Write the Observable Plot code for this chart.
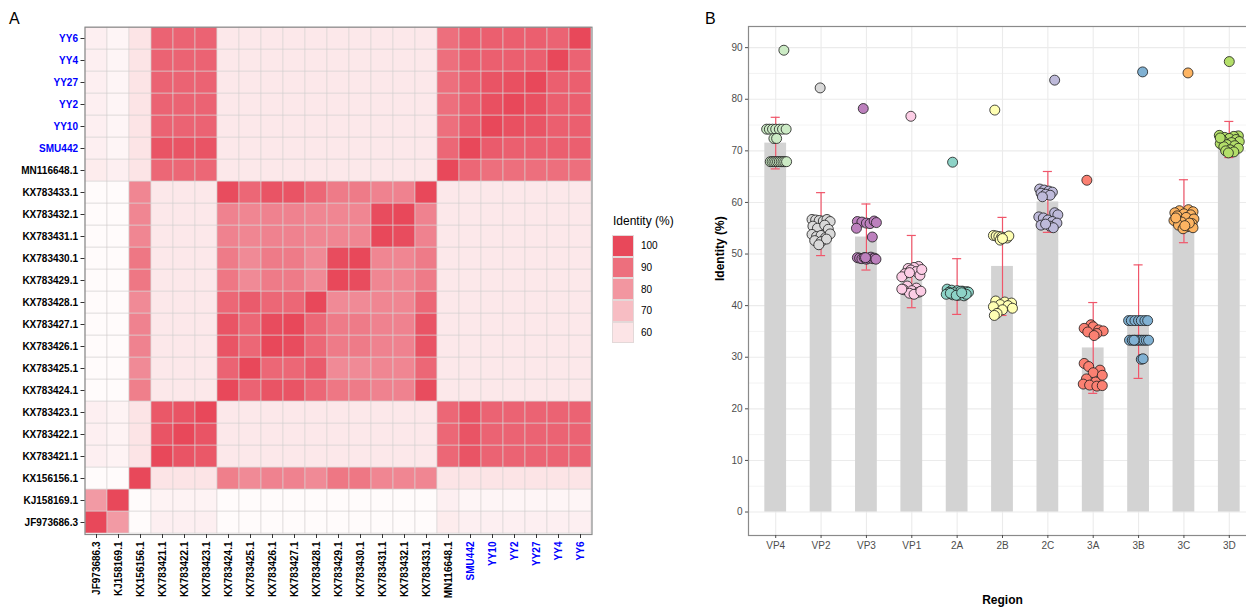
<!DOCTYPE html>
<html>
<head>
<meta charset="utf-8">
<script src="https://cdn.jsdelivr.net/npm/d3@7"></script>
<script src="https://cdn.jsdelivr.net/npm/@observablehq/plot@0.6"></script>
<style>
  html, body { margin: 0; padding: 0; background: #fff; }
  body { width: 1246px; height: 611px; overflow: hidden; position: relative; font-family: "Liberation Sans", Arial, Helvetica, sans-serif; }
  .panel { position: absolute; top: 0; }
  .panel svg { max-width: none !important; }
  .tag { position: absolute; font-size: 16px; color: #000; line-height: 1; }
  #legend { position: absolute; left: 612px; top: 214px; font-size: 12px; color: #000; }
  #legend .title { font-size: 12px; margin-bottom: 7px; margin-left: 1px; }
  #legend .row { display: flex; align-items: center; height: 21.7px; }
  #legend .key { width: 22px; height: 21.7px; box-sizing: border-box; border: 0.5px solid #e3d8d8; }
  #legend .lab { font-size: 10px; margin-left: 7px; }
</style>
</head>
<body>
<div class="tag" style="left:9px; top:11px;">A</div>
<div class="tag" style="left:705px; top:11px;">B</div>
<div id="panelA" class="panel" style="left:0px; width:600px;"></div>
<div id="legend"></div>
<div id="panelB" class="panel" style="left:700px; width:556px;"></div>
<script>
// ---------------- Panel A data ----------------
const sequences = ["JF973686.3","KJ158169.1","KX156156.1","KX783421.1","KX783422.1","KX783423.1",
  "KX783424.1","KX783425.1","KX783426.1","KX783427.1","KX783428.1","KX783429.1","KX783430.1",
  "KX783431.1","KX783432.1","KX783433.1","MN116648.1","SMU442","YY10","YY2","YY27","YY4","YY6"];
const newStrains = ["SMU442","YY10","YY2","YY27","YY4","YY6"];
// identity (%) matrix, rows and columns in the order of `sequences`
const identityMatrix = [
  [100,79,54,57,57,57,54,54,54,54,54,54,54,54,54,54,58,57,57,57,57,57,57],
  [79,100,54,56,56,56,54,54,54,54,54,54,54,54,54,54,57,55.5,55.5,55.5,55.5,55.5,55.5],
  [54,54,100,60,60,60,86,83,85,85,83,88,88,84,84,84,60,60,60,60,60,60,60],
  [57,56,60,100,97,96,59,59,59,59,59,59,59,59,59,59,92,97,93,93,93,93,93],
  [57,56,60,97,100,97,59,59,59,59,59,59,59,59,59,59,92,97,93,93,93,93,93],
  [57,56,60,96,97,100,59,59,59,59,59,59,59,59,59,59,92,97,93,93,93,93,93],
  [54,54,86,59,59,59,100,93,97,97,92,88,87,85,85,99,59,59,59,59,59,59,59],
  [54,54,83,59,59,59,93,100,92,92,95,83,83,84,84,92,59,59,59,59,59,59,59],
  [54,54,85,59,59,59,97,92,100,99,92,87,87,85,85,97,59,59,59,59,59,59,59],
  [54,54,85,59,59,59,97,92,99,100,92,87,87,85,85,97,59,59,59,59,59,59,59],
  [54,54,83,59,59,59,92,95,92,92,100,83,83,84,84,92,59,59,59,59,59,59,59],
  [54,54,88,59,59,59,88,83,87,87,83,100,99,84,84,87,59,59,59,59,59,59,59],
  [54,54,88,59,59,59,87,83,87,87,83,99,100,84,84,87,59,59,59,59,59,59,59],
  [54,54,84,59,59,59,85,84,85,85,84,84,84,100,99,85,59,59,59,59,59,59,59],
  [54,54,84,59,59,59,85,84,85,85,84,84,84,99,100,85,59,59,59,59,59,59,59],
  [54,54,84,59,59,59,99,92,97,97,92,87,87,85,85,100,59,59,59,59,59,59,59],
  [58,57,60,92,92,92,59,59,59,59,59,59,59,59,59,59,100,92,90,90,90,90,90],
  [57,55.5,60,97,97,97,59,59,59,59,59,59,59,59,59,59,92,100,95,94,94,94,94],
  [57,55.5,60,93,93,93,59,59,59,59,59,59,59,59,59,59,90,95,100,98,97,94,94],
  [57,55.5,60,93,93,93,59,59,59,59,59,59,59,59,59,59,90,94,98,100,98,94,94],
  [57,55.5,60,93,93,93,59,59,59,59,59,59,59,59,59,59,90,94,97,98,100,94,94],
  [57,55.5,60,93,93,93,59,59,59,59,59,59,59,59,59,59,90,94,94,94,94,100,93],
  [57,55.5,60,93,93,93,59,59,59,59,59,59,59,59,59,59,90,94,94,94,94,93,100]
];
const legendValues = [100, 90, 80, 70, 60];
const colorDomain = [53, 100];
const colorRange = ["#ffffff", "#E8485A"];

// ---------------- Panel B data ----------------
const regions = ["VP4","VP2","VP3","VP1","2A","2B","2C","3A","3B","3C","3D"];
const regionColors = ["#CCEBC5","#D9D9D9","#BC80BD","#FCCDE5","#8DD3C7","#FFFFB3","#BEBADA","#FB8072","#80B1D3","#FDB462","#B3DE69"];
const regionMean = [71.5, 55.8, 53.3, 46.6, 43.7, 47.6, 60.1, 31.8, 36.9, 58.3, 72.2];
const regionSD   = [5.0, 6.1, 6.4, 7.0, 5.4, 9.5, 5.9, 8.8, 11.0, 6.1, 3.5];
const yTicks = [0,10,20,30,40,50,60,70,80,90];
const yMinorTicks = [5,15,25,35,45,55,65,75,85];

const vp4Identity = [89.5, 74.2,74.2,74.2,74.2,74.2,74.2,74.2, 72.4,72.4, 67.9,67.9,67.9,67.9,67.9,67.9,67.9,67.9,67.9,67.9];
const vp4Jitter   = [0.18, -0.2,-0.14,-0.07,0.0,0.08,0.15,0.23, -0.04,0.02, -0.12,-0.08,-0.04,0.0,0.04,0.08,0.12,0.16,0.2,0.24];
const vp2Identity = [82.2, 56.7,56.6,56.5,56.4,56.7,56.3, 55.4,55.0,55.6,54.8, 53.8,53.4,53.6,53.2,53.9, 52.6,52.4,52.9, 51.8];
const vp2Jitter   = [-0.02, -0.2,-0.12,-0.04,0.05,0.13,0.2, -0.18,-0.08,0.08,0.16, -0.2,-0.1,0.0,0.1,0.2, -0.14,0.0,0.12, -0.05];
const vp3Identity = [78.2, 56.3,56.2,56.0,55.9,56.4,56.1, 55.0, 53.3, 49.3,49.2,49.1,49.3,49.0,49.2,49.4,49.1,49.2,49.0,49.3];
const vp3Jitter   = [-0.07, -0.2,-0.1,0.0,0.08,0.17,0.22, -0.22, 0.13, -0.2,-0.15,-0.1,-0.05,0.0,0.05,0.1,0.14,0.18,0.21,-0.02];
const vp1Identity = [76.7, 47.6,47.4,47.2,46.9,46.6,46.2,45.9,45.6,47.0,46.4, 43.8,43.4,43.1,42.9,42.6,42.4,42.2,43.2,42.8];
const vp1Jitter   = [-0.02, 0.15,0.05,-0.08,-0.02,0.1,-0.15,0.18,-0.22,0.22,-0.05, -0.1,0.1,-0.18,0.0,0.15,-0.05,0.05,-0.22,0.2];
const r2aIdentity = [67.8, 43.2,43.0,42.9,42.8,42.7,42.6,42.5,42.4,42.3,42.2,42.1,42.0,41.9,42.6,42.4,42.8,42.2,42.0,42.5];
const r2aJitter   = [-0.1, -0.22,-0.12,0.0,0.12,0.22,-0.18,-0.06,0.06,0.18,-0.24,-0.1,0.03,0.15,0.25,-0.15,0.08,0.2,-0.02,0.1];
const r2bIdentity = [77.9, 53.6,53.5,53.4,53.3,53.2,53.1,52.7,53.5,53.0, 40.9,40.7,40.5,40.2,40.0,39.8,39.5,39.2,38.5,38.1];
const r2bJitter   = [-0.17, -0.2,-0.14,-0.08,-0.02,0.04,0.1,-0.05,0.14,0.0, -0.15,0.05,0.2,-0.05,0.12,-0.2,0.22,0.0,-0.12,-0.18];
const r2cIdentity = [83.7, 62.6,62.4,62.2,62.0,61.8,61.6,61.4,61.1, 58.0,57.6,57.2,57.0,56.6,56.3,56.0,55.6,55.4,55.1,55.8];
const r2cJitter   = [0.15, -0.18,-0.08,0.02,0.1,-0.15,-0.05,0.05,-0.12, 0.15,0.22,-0.2,-0.1,0.0,0.1,0.2,-0.15,0.05,0.12,-0.05];
const r3aIdentity = [64.3, 36.3,35.9,35.6,35.3,35.1,34.9,34.6,34.2, 28.8,28.2,27.5,27.0,26.5,25.8,25.2,24.8,24.6,24.4,24.5];
const r3aJitter   = [-0.14, -0.05,0.0,-0.2,0.12,0.22,-0.12,0.08,0.02, -0.2,-0.1,0.15,0.0,0.2,-0.15,0.05,-0.22,-0.08,0.08,0.2];
const r3bIdentity = [85.3, 37.1,37.1,37.1,37.1,37.1,37.1,37.1, 33.3,33.3,33.3,33.3,33.3,33.3,33.3,33.3,33.3,33.3, 29.6,29.7];
const r3bJitter   = [0.09, -0.22,-0.16,-0.08,0.0,0.06,0.14,0.2, -0.2,-0.14,-0.08,-0.03,0.02,0.07,0.12,0.17,0.22,-0.1, 0.06,0.1];
const r3cIdentity = [85.1, 58.6,58.4,58.2,58.0,57.8,57.6,57.4,57.1,56.8,56.5,56.2,55.9,55.6,55.3,55.1,54.9,56.0,57.0,55.5];
const r3cJitter   = [0.09, 0.1,-0.1,0.2,-0.2,0.0,0.15,-0.15,0.05,0.22,-0.22,-0.05,0.18,-0.12,0.08,0.2,-0.02,0.12,-0.18,0.02];
const r3dIdentity = [87.3, 73.0,72.9,72.8,72.6,72.4,72.2,72.0,71.8,71.6,71.4,71.2,71.0,70.8,70.5,70.2,70.0,69.8,69.6,72.5];
const r3dJitter   = [0.0, -0.22,0.2,0.1,-0.1,0.0,0.15,-0.15,0.22,0.05,-0.2,-0.05,0.12,-0.12,0.2,0.02,-0.08,0.1,-0.02,-0.2];

const pointIdentity = [vp4Identity, vp2Identity, vp3Identity, vp1Identity, r2aIdentity, r2bIdentity, r2cIdentity, r3aIdentity, r3bIdentity, r3cIdentity, r3dIdentity];
const pointJitter   = [vp4Jitter, vp2Jitter, vp3Jitter, vp1Jitter, r2aJitter, r2bJitter, r2cJitter, r3aJitter, r3bJitter, r3cJitter, r3dJitter];

const FONT = "Liberation Sans, Arial, Helvetica, sans-serif";

// ---------------- Panel A: heatmap ----------------
const cells = sequences.flatMap((r, i) => sequences.map((c, j) => ({row: r, col: c, value: identityMatrix[i][j]})));
const labelColor = d => newStrains.includes(d) ? "#0000FF" : "#000000";

const heat = Plot.plot({
  width: 600, height: 611,
  marginLeft: 84.5, marginRight: 8.5, marginTop: 26.7, marginBottom: 77,
  style: {fontFamily: FONT, background: "transparent", maxWidth: "none"},
  x: {domain: sequences, padding: 0, label: null},
  y: {domain: [...sequences].reverse(), padding: 0, label: null},
  color: {type: "linear", domain: colorDomain, range: colorRange, interpolate: "rgb"},
  marks: [
    Plot.cell(cells, {x: "col", y: "row", fill: "value", stroke: "#d6d2d2", strokeWidth: 0.6, inset: 0}),
    Plot.frame({stroke: "#8a8a8a", strokeWidth: 1.2}),
    Plot.axisX({tickSize: 4, tickFormat: () => "", stroke: "#333", label: null}),
    Plot.axisY({tickSize: 4, tickFormat: () => "", stroke: "#333", label: null}),
    Plot.text(sequences, {x: d => d, frameAnchor: "bottom", dy: 7, rotate: -90, textAnchor: "end", lineAnchor: "middle",
      fill: labelColor, fontWeight: "bold", fontSize: 10, text: d => d}),
    Plot.text(sequences, {y: d => d, frameAnchor: "left", dx: -7, textAnchor: "end", lineAnchor: "middle",
      fill: labelColor, fontWeight: "bold", fontSize: 10, text: d => d})
  ]
});
document.getElementById("panelA").appendChild(heat);

// legend (discrete keys coloured through the plot's colour scale)
let colorFn;
try {
  const cs = heat.scale("color");
  colorFn = v => cs.apply(v);
  colorFn(80);
} catch (e) {
  const interp = d3.interpolateRgb(colorRange[0], colorRange[1]);
  colorFn = v => interp((v - colorDomain[0]) / (colorDomain[1] - colorDomain[0]));
}
const legend = document.getElementById("legend");
const lt = document.createElement("div"); lt.className = "title"; lt.textContent = "Identity (%)"; legend.appendChild(lt);
for (const v of legendValues) {
  const row = document.createElement("div"); row.className = "row";
  const key = document.createElement("div"); key.className = "key"; key.style.background = colorFn(v);
  const lab = document.createElement("div"); lab.className = "lab"; lab.textContent = v;
  row.appendChild(key); row.appendChild(lab); legend.appendChild(row);
}

// ---------------- Panel B: bar + jitter ----------------
const summary = regions.map((r, i) => ({region: r, pos: i + 1, mean: regionMean[i], sd: regionSD[i]}));
const points = regions.flatMap((r, i) => pointIdentity[i].map((v, k) => ({region: r, pos: i + 1, jitter: pointJitter[i][k], identity: v})));
const errColor = "#F0566A";
const barHalf = 0.24, capHalf = 0.1;

const bars = Plot.plot({
  width: 556, height: 611,
  marginLeft: 48, marginRight: 0, marginTop: 26, marginBottom: 76,
  style: {fontFamily: FONT, background: "transparent", maxWidth: "none"},
  x: {type: "linear", domain: [0.4, 11.6], label: null},
  y: {domain: [-4.55, 94.1], label: null},
  color: {domain: regions, range: regionColors},
  marks: [
    Plot.ruleY(yMinorTicks, {stroke: "#ebebeb", strokeWidth: 0.6}),
    Plot.ruleY(yTicks, {stroke: "#ebebeb", strokeWidth: 1.1}),
    Plot.ruleX(summary, {x: "pos", stroke: "#ebebeb", strokeWidth: 1.1}),
    Plot.rect(summary, {x1: d => d.pos - barHalf, x2: d => d.pos + barHalf, y1: 0, y2: "mean", fill: "#D3D3D3"}),
    Plot.ruleX(summary, {x: "pos", y1: d => d.mean - d.sd, y2: d => d.mean + d.sd, stroke: errColor, strokeWidth: 1.2}),
    Plot.ruleY(summary, {y: d => d.mean - d.sd, x1: d => d.pos - capHalf, x2: d => d.pos + capHalf, stroke: errColor, strokeWidth: 1.2}),
    Plot.ruleY(summary, {y: d => d.mean + d.sd, x1: d => d.pos - capHalf, x2: d => d.pos + capHalf, stroke: errColor, strokeWidth: 1.2}),
    Plot.dot(points, {x: d => d.pos + d.jitter, y: "identity", fill: "region", stroke: "#1a1a1a", strokeWidth: 0.8, r: 5}),
    Plot.frame({stroke: "#8a8a8a", strokeWidth: 1.2}),
    Plot.axisY({ticks: yTicks, tickSize: 3, tickPadding: 3, fontSize: 10, color: "#4d4d4d", label: null}),
    Plot.axisX({ticks: summary.map(d => d.pos), tickFormat: i => regions[i - 1], tickSize: 3, tickPadding: 3, fontSize: 10, color: "#4d4d4d", label: null}),
    Plot.text(["Identity (%)"], {frameAnchor: "left", dx: -28, rotate: -90, text: d => d, fontWeight: "bold", fontSize: 12, fill: "#000", lineAnchor: "middle"}),
    Plot.text(["Region"], {frameAnchor: "bottom", dy: 65, text: d => d, fontWeight: "bold", fontSize: 12, fill: "#000", lineAnchor: "middle"})
  ]
});
document.getElementById("panelB").appendChild(bars);
</script>
</body>
</html>
